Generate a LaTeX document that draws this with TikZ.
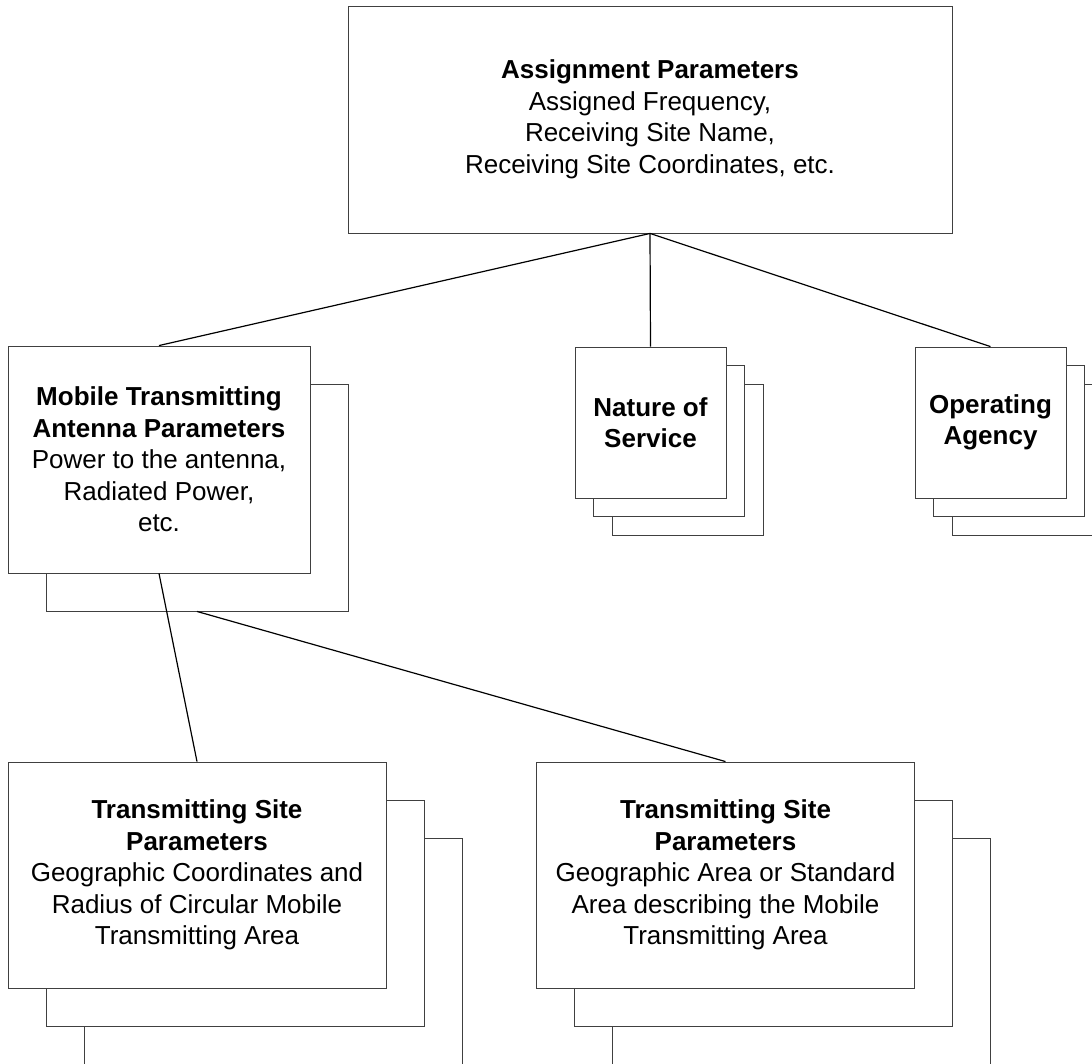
\documentclass[tikz,border=0pt]{standalone}
\usepackage{fontspec}
\setmainfont{Liberation Sans}
\usepackage{tikz}

\begin{document}
\begin{tikzpicture}[x=1pt, y=-1pt,
box/.style={draw=black!75, line width=0.9pt, fill=white, align=center, inner sep=0pt,
  font=\fontsize{26}{31.5}\selectfont},
topbox/.style={box, minimum width=604pt, minimum height=227pt},
antbox/.style={box, minimum width=302pt, minimum height=227pt},
tagbox/.style={box, minimum width=151pt, minimum height=151pt},
sitebox/.style={box, minimum width=378pt, minimum height=226pt},
link/.style={line width=1.2pt}]
\useasboundingbox (0,0) rectangle (1092,1063);
\clip (0,0) rectangle (1092,1063);
\node[topbox] (assign) at (650,119.5) {\textbf{Assignment Parameters}\\Assigned Frequency,\\Receiving Site Name,\\Receiving Site Coordinates, etc.};
\node[antbox] (mobile2) at (197,497.5) {};
\node[antbox] (mobile) at (159,459.5) {\textbf{Mobile Transmitting}\\\textbf{Antenna Parameters}\\Power to the antenna,\\Radiated Power,\\etc.};
\node[tagbox] (nature3) at (687.5,459.5) {};
\node[tagbox] (nature2) at (669,441) {};
\node[tagbox] (nature) at (650.5,422.5) {\textbf{Nature of}\\\textbf{Service}};
\node[tagbox] (agency3) at (1027.5,459.5) {};
\node[tagbox] (agency2) at (1009,441) {};
\node[tagbox] (agency) at (990.5,422.5) {\textbf{Operating}\\\textbf{Agency}};
\node[sitebox] (circle3) at (273,951) {};
\node[sitebox] (circle2) at (235,913) {};
\node[sitebox] (circle) at (197,875) {\textbf{Transmitting Site}\\\textbf{Parameters}\\Geographic Coordinates and\\Radius of Circular Mobile\\Transmitting Area};
\node[sitebox] (area3) at (801.5,951) {};
\node[sitebox] (area2) at (763.5,913) {};
\node[sitebox] (area) at (725.5,875) {\textbf{Transmitting Site}\\\textbf{Parameters}\\Geographic Area or Standard\\Area describing the Mobile\\Transmitting Area};
\draw[link] (assign.south) -- (mobile.north);
\draw[link] (assign.south) -- (nature.north);
\draw[link] (assign.south) -- (agency.north);
\draw[link] (mobile.south) -- (circle.north);
\draw[link] (mobile2.south) -- (area.north);
\end{tikzpicture}
\end{document}
